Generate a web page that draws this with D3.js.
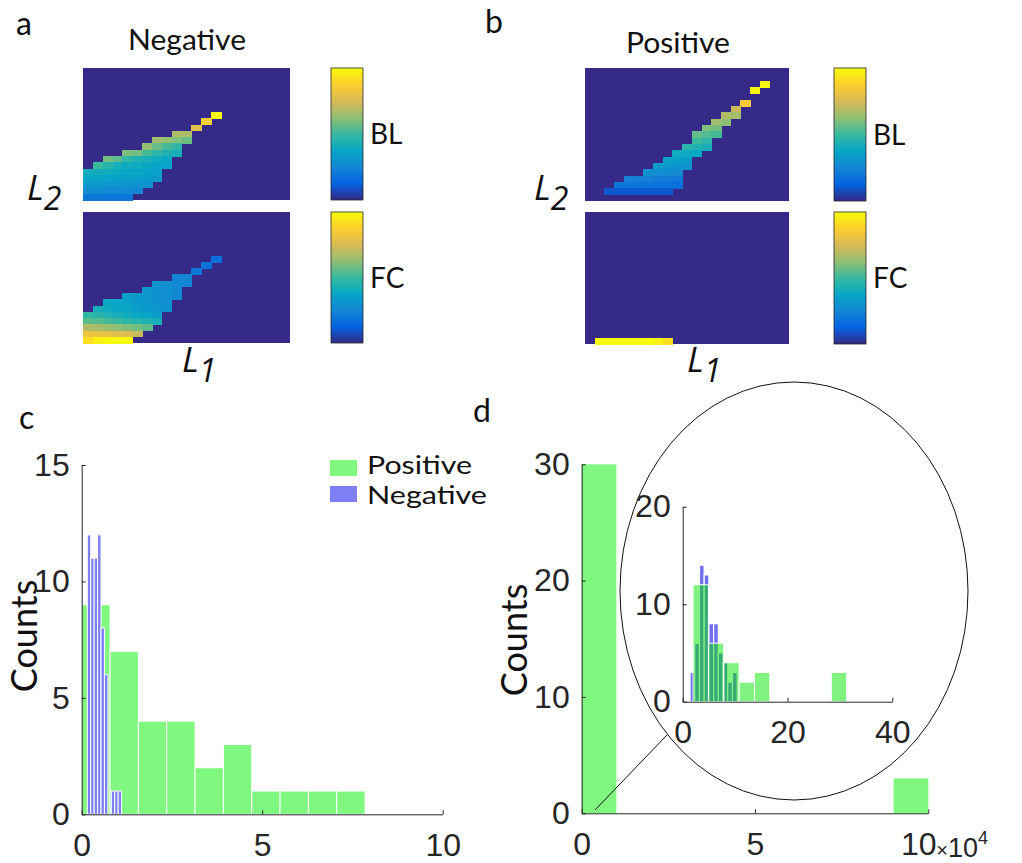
<!DOCTYPE html>
<html>
<head>
<meta charset="utf-8">
<script src="https://cdn.jsdelivr.net/npm/d3@7"></script>
<style>
  body { margin: 0; background: #fff; }
  svg { display: block; }
</style>
</head>
<body>
<svg id="fig" width="1022" height="863"></svg>
<script>
// ---------- colormap ----------
const parulaStops = ["#352a87", "#0363e1", "#1485d4", "#06a7c6", "#38b99e",
                     "#92bf73", "#d9ba56", "#fcce2e", "#f9fb0e"];

// ---------- heatmaps (21 x 21 grid, rows counted from the top) ----------
// each entry: [row, first column, values along the row]
const gridN = 21;
const negBL = [
  [7, 13, [1.0]],
  [8, 12, [0.86]],
  [9, 11, [0.78]],
  [10, 9, [0.68, 0.67]],
  [11, 7, [0.65, 0.63, 0.6, 0.57]],
  [12, 6, [0.63, 0.57, 0.52, 0.48]],
  [13, 4, [0.6, 0.58, 0.52, 0.47, 0.44, 0.42]],
  [14, 2, [0.58, 0.55, 0.48, 0.44, 0.42, 0.4, 0.38]],
  [15, 1, [0.5, 0.46, 0.42, 0.4, 0.4, 0.38, 0.37, 0.36]],
  [16, 0, [0.42, 0.41, 0.4, 0.39, 0.38, 0.37, 0.36, 0.35]],
  [17, 0, [0.38, 0.37, 0.37, 0.36, 0.35, 0.35, 0.34, 0.33]],
  [18, 0, [0.33, 0.33, 0.32, 0.32, 0.31, 0.3, 0.3]],
  [19, 0, [0.28, 0.28, 0.27, 0.27, 0.26, 0.26]],
  [20, 0, [0.2, 0.2, 0.2, 0.19, 0.19]]
];
const negFC = [
  [7, 13, [0.17]],
  [8, 12, [0.18]],
  [9, 11, [0.2]],
  [10, 9, [0.25, 0.25]],
  [11, 7, [0.3, 0.28, 0.26, 0.25]],
  [12, 6, [0.32, 0.3, 0.28, 0.26]],
  [13, 4, [0.35, 0.33, 0.31, 0.3, 0.28, 0.27]],
  [14, 2, [0.38, 0.37, 0.35, 0.33, 0.31, 0.3, 0.28]],
  [15, 1, [0.42, 0.4, 0.38, 0.37, 0.35, 0.33, 0.32, 0.3]],
  [16, 0, [0.48, 0.46, 0.44, 0.42, 0.4, 0.38, 0.36, 0.34]],
  [17, 0, [0.55, 0.54, 0.52, 0.5, 0.48, 0.46, 0.44, 0.42]],
  [18, 0, [0.68, 0.66, 0.64, 0.62, 0.6, 0.58, 0.55]],
  [19, 0, [0.82, 0.82, 0.8, 0.78, 0.76, 0.72]],
  [20, 0, [0.92, 0.97, 1.0, 1.0, 1.0]]
];
const posBL = [
  [2, 18, [1.0]],
  [3, 17, [0.98]],
  [5, 16, [0.85]],
  [6, 15, [0.72]],
  [7, 14, [0.68, 0.66]],
  [8, 13, [0.65, 0.62]],
  [9, 12, [0.6, 0.58]],
  [10, 11, [0.56, 0.54, 0.52]],
  [11, 11, [0.5, 0.47]],
  [12, 10, [0.46, 0.44, 0.42]],
  [13, 9, [0.4, 0.39, 0.38]],
  [14, 8, [0.36, 0.35, 0.34]],
  [15, 7, [0.33, 0.32, 0.31, 0.3]],
  [16, 6, [0.29, 0.28, 0.27, 0.26]],
  [17, 4, [0.24, 0.23, 0.23, 0.22, 0.22, 0.21]],
  [18, 3, [0.2, 0.2, 0.19, 0.19, 0.18, 0.18, 0.17]],
  [19, 2, [0.1, 0.1, 0.1, 0.1, 0.1, 0.1, 0.1]]
];
const posFC = [
  [20, 1, [1.0, 1.0, 1.0, 1.0, 1.0, 1.0, 0.97, 0.92]]
];

// ---------- histogram c ----------
const cPosEdges = [0, 0.785, 1.57, 2.355, 3.14, 3.925, 4.71, 5.495, 6.28, 7.065, 7.85];
const cPosCounts = [9, 7, 4, 4, 2, 3, 1, 1, 1, 1];
const cNegEdges = [0.155, 0.25, 0.345, 0.44, 0.535, 0.63, 0.725, 0.82, 0.915, 1.01, 1.105];
const cNegCounts = [12, 11, 11, 12, 8, 6, 0, 1, 1, 1];
const cXTicks = [0, 5, 10];
const cYTicks = [0, 5, 10, 15];

// ---------- histogram d ----------
const dEdges = [0, 1, 2, 3, 4, 5, 6, 7, 8, 9, 10];
const dCounts = [30, 0, 0, 0, 0, 0, 0, 0, 0, 3];
const dXTicks = [0, 5, 10];
const dYTicks = [0, 10, 20, 30];
// inset of d
const insetPosEdges = [1.98, 4.91, 7.84, 10.77, 13.7, 16.63, 19.56, 22.49, 25.42, 28.35, 31.28];
const insetPosCounts = [12, 6, 4, 2, 3, 0, 0, 0, 0, 3];
const insetNegEdges = [1.4, 2.3, 3.2, 4.1, 5.0, 5.9, 6.8, 7.7, 8.6, 9.5, 10.4];
const insetNegCounts = [3, 6, 14, 13, 8, 8, 5, 4, 2, 3];
const insetXTicks = [0, 20, 40];
const insetYTicks = [0, 10, 20];

// ---------- drawing ----------
const svg = d3.select("#fig");
svg.append("rect").attr("width", 1022).attr("height", 863).attr("fill", "#fff");

const parula = d3.scaleLinear()
  .domain(parulaStops.map((_, i) => i / (parulaStops.length - 1)))
  .range(parulaStops)
  .interpolate(d3.interpolateRgb)
  .clamp(true);

const defs = svg.append("defs");
const grad = defs.append("linearGradient").attr("id", "parulaGrad")
  .attr("x1", 0).attr("y1", 1).attr("x2", 0).attr("y2", 0);
parulaStops.forEach((c, i) => grad.append("stop")
  .attr("offset", i / (parulaStops.length - 1)).attr("stop-color", c));

const textFont = "Lato, 'Open Sans', sans-serif";
const axisFont = "'Liberation Sans', Arial, sans-serif";
const ink = "#262626";

function heatmap(rows, x0, x1, y0, y1) {
  const g = svg.append("g").attr("shape-rendering", "crispEdges");
  const xs = d3.scaleBand().domain(d3.range(gridN)).range([x0, x1]);
  const ys = d3.scaleBand().domain(d3.range(gridN)).range([y0, y1]);
  g.append("rect").attr("x", x0).attr("y", y0)
    .attr("width", x1 - x0).attr("height", y1 - y0).attr("fill", parula(0));
  const cells = [];
  rows.forEach(([r, c0, vals]) => vals.forEach((v, k) => cells.push({ r, c: c0 + k, v })));
  g.selectAll("rect.cell").data(cells).join("rect").attr("class", "cell")
    .attr("x", d => xs(d.c)).attr("y", d => ys(d.r))
    .attr("width", xs.bandwidth() + 0.6).attr("height", ys.bandwidth() + 0.6)
    .attr("fill", d => parula(d.v));
}

function colorbar(x0, x1, y0, y1, label) {
  svg.append("rect").attr("x", x0).attr("y", y0)
    .attr("width", x1 - x0).attr("height", y1 - y0)
    .attr("fill", "url(#parulaGrad)").attr("stroke", ink).attr("stroke-width", 0.8);
  svg.append("text").attr("x", x1 + 7).attr("y", (y0 + y1) / 2 + 10)
    .attr("font-family", textFont).attr("font-size", 28).attr("fill", "#111")
    .text(label);
}

function axisLabelL(x, yBase, sub) {
  const t = svg.append("text").attr("x", x).attr("y", yBase)
    .attr("font-family", "'Open Sans', sans-serif").attr("font-style", "italic")
    .attr("font-size", 35).attr("fill", "#111");
  t.append("tspan").text("L");
  t.append("tspan").attr("dy", 10).attr("font-size", 32).text(sub);
}

function panelLetter(x, y, s) {
  svg.append("text").attr("x", x).attr("y", y)
    .attr("font-family", textFont).attr("font-size", 32).attr("fill", "#111").text(s);
}

function title(cx, y, s, w) {
  svg.append("text").attr("x", cx - w / 2).attr("y", y)
    .attr("font-family", textFont).attr("font-size", 28).attr("fill", "#111")
    .attr("textLength", w).attr("lengthAdjust", "spacingAndGlyphs").text(s);
}

// panel a
panelLetter(16, 35, "a");
title(187, 50, "Negative", 118);
heatmap(negBL, 83, 290, 68, 200);
heatmap(negFC, 83, 290, 212, 343);
colorbar(331, 363, 68, 200, "BL");
colorbar(331, 363, 212, 343, "FC");
axisLabelL(27, 200, "2");
axisLabelL(182, 372, "1");

// panel b
panelLetter(485, 33, "b");
title(678, 53, "Positive", 104);
heatmap(posBL, 585, 789, 68, 201);
heatmap(posFC, 585, 789, 212, 344);
colorbar(834, 866, 68, 201, "BL");
colorbar(834, 866, 212, 344, "FC");
axisLabelL(534, 200, "2");
axisLabelL(687, 372, "1");

// axis styling helper
function styleAxis(g, size) {
  g.selectAll("path.domain").attr("stroke", ink).attr("stroke-width", 1);
  g.selectAll(".tick line").attr("stroke", ink);
  g.selectAll(".tick text").attr("fill", ink)
    .attr("font-family", axisFont).attr("font-size", size);
}

function bars(g, edges, counts, xs, ys, fill, opts = {}) {
  const data = counts.map((c, i) => ({ x0: edges[i], x1: edges[i + 1], c })).filter(d => d.c > 0);
  g.selectAll(null).data(data).join("rect")
    .attr("x", d => xs(d.x0)).attr("width", d => xs(d.x1) - xs(d.x0))
    .attr("y", d => ys(d.c)).attr("height", d => ys(0) - ys(d.c))
    .attr("fill", fill).attr("fill-opacity", opts.opacity ?? 1)
    .attr("stroke", "#fff").attr("stroke-width", opts.sw ?? 1);
}

// panel c
panelLetter(19, 429, "c");
{
  const xs = d3.scaleLinear().domain([0, 10]).range([81.7, 442.7]);
  const ys = d3.scaleLinear().domain([0, 15]).range([814.3, 465]);
  const g = svg.append("g");
  bars(g, cPosEdges, cPosCounts, xs, ys, "#80f880", { sw: 1 });
  bars(g, cNegEdges, cNegCounts, xs, ys, "#7f7ff4", { sw: 1 });
  const ax = svg.append("g").attr("transform", `translate(0,${ys(0)})`)
    .call(d3.axisBottom(xs).tickValues(cXTicks).tickSizeInner(-4).tickSizeOuter(0).tickPadding(19));
  styleAxis(ax, 32);
  const ay = svg.append("g").attr("transform", `translate(${xs(0)},0)`)
    .call(d3.axisLeft(ys).tickValues(cYTicks).tickSizeInner(-4).tickSizeOuter(0).tickPadding(12));
  styleAxis(ay, 32);
  svg.append("text").attr("transform", `translate(37,636) rotate(-90)`)
    .attr("text-anchor", "middle").attr("font-family", textFont)
    .attr("font-size", 36).attr("fill", "#111").text("Counts");
  // legend
  const lg = svg.append("g");
  lg.append("rect").attr("x", 330).attr("y", 460).attr("width", 27).attr("height", 16).attr("fill", "#80f880");
  lg.append("rect").attr("x", 330).attr("y", 486).attr("width", 27).attr("height", 16).attr("fill", "#7f7ff4");
  lg.append("text").attr("x", 367).attr("y", 474).attr("font-family", textFont)
    .attr("font-size", 25).attr("fill", "#111").attr("textLength", 105)
    .attr("lengthAdjust", "spacingAndGlyphs").text("Positive");
  lg.append("text").attr("x", 367).attr("y", 504).attr("font-family", textFont)
    .attr("font-size", 25).attr("fill", "#111").attr("textLength", 120)
    .attr("lengthAdjust", "spacingAndGlyphs").text("Negative");
}

// panel d
panelLetter(473, 422, "d");
{
  const xs = d3.scaleLinear().domain([0, 10]).range([581.7, 928.3]);
  const ys = d3.scaleLinear().domain([0, 30]).range([813.3, 464.3]);
  const g = svg.append("g");
  bars(g, dEdges, dCounts, xs, ys, "#80f880", { sw: 0 });
  const ax = svg.append("g").attr("transform", `translate(0,${ys(0)})`)
    .call(d3.axisBottom(xs).tickValues(dXTicks).tickSizeInner(-4).tickSizeOuter(0).tickPadding(19));
  styleAxis(ax, 32);
  ax.selectAll(".tick text").filter(d => d === 10).attr("dx", -10);
  const ay = svg.append("g").attr("transform", `translate(${xs(0)},0)`)
    .call(d3.axisLeft(ys).tickValues(dYTicks).tickSizeInner(-4).tickSizeOuter(0).tickPadding(12));
  styleAxis(ay, 32);
  // exponent label
  const ex = svg.append("text").attr("x", xs(10) + 8).attr("y", 857)
    .attr("font-family", axisFont).attr("fill", ink);
  ex.append("tspan").attr("font-size", 20).text("\u00d7");
  ex.append("tspan").attr("font-size", 27).text("10");
  ex.append("tspan").attr("dy", -13).attr("font-size", 18).text("4");
  svg.append("text").attr("transform", `translate(527,640) rotate(-90)`)
    .attr("text-anchor", "middle").attr("font-family", textFont)
    .attr("font-size", 36).attr("fill", "#111").text("Counts");

  // magnifier ellipse and pointer line
  svg.append("ellipse").attr("cx", 794).attr("cy", 591).attr("rx", 174).attr("ry", 209)
    .attr("fill", "none").attr("stroke", "#111").attr("stroke-width", 1);
  svg.append("line").attr("x1", 595).attr("y1", 810).attr("x2", 667).attr("y2", 735)
    .attr("stroke", "#111").attr("stroke-width", 1);

  // inset
  const ixs = d3.scaleLinear().domain([0, 40]).range([682.7, 892.3]);
  const iys = d3.scaleLinear().domain([0, 20]).range([701.7, 506.7]);
  const ig = svg.append("g");
  bars(ig, insetNegEdges, insetNegCounts, ixs, iys, "#6f6ff0", { sw: 1.2 });
  bars(ig, insetPosEdges, insetPosCounts, ixs, iys, "#00e600", { sw: 1, opacity: 0.5 });
  const iax = svg.append("g").attr("transform", `translate(0,${iys(0)})`)
    .call(d3.axisBottom(ixs).tickValues(insetXTicks).tickSizeInner(-4).tickSizeOuter(0).tickPadding(19));
  styleAxis(iax, 32);
  const iay = svg.append("g").attr("transform", `translate(${ixs(0)},0)`)
    .call(d3.axisLeft(iys).tickValues(insetYTicks).tickSizeInner(-4).tickSizeOuter(0).tickPadding(12));
  styleAxis(iay, 32);
}
</script>
</body>
</html>
